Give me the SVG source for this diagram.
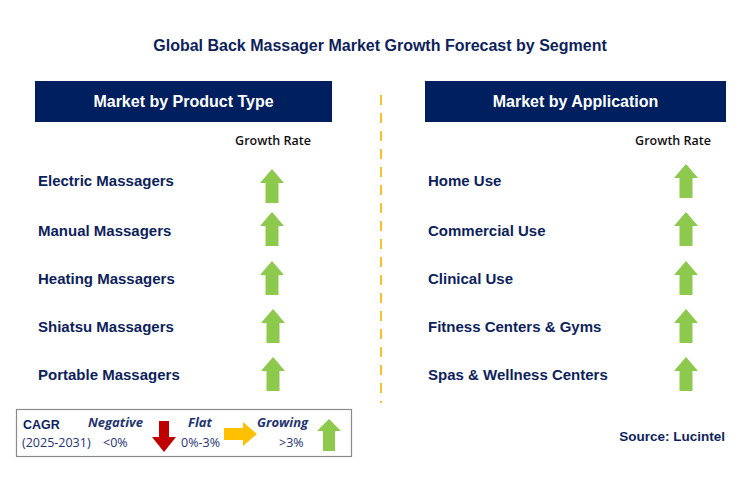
<svg xmlns="http://www.w3.org/2000/svg" width="740" height="485" viewBox="0 0 740 485">
<style>
.t{font-family:"Liberation Sans",Arial,sans-serif;font-weight:bold;fill:#0e1f5b}
.lbl{font-size:15px}
.hd{font-family:"Liberation Sans",Arial,sans-serif;font-weight:bold;font-size:16px;fill:#ffffff}
.gr{font-family:"Open Sans","Liberation Sans",sans-serif;font-weight:600;font-size:12.5px;fill:#111111}
.lg{font-family:"Open Sans","Liberation Sans",sans-serif;font-size:12.5px;fill:#1f3470}
.lgi{font-family:"Open Sans","Liberation Sans",sans-serif;font-size:13px;font-style:italic;font-weight:bold;fill:#1f3470}
.up{fill:#8cc94c}
</style>
<defs>
<path id="upA" d="M0,-17 L12,-3 L6.5,-3 L6.5,17 L-6.5,17 L-6.5,-3 L-12,-3 Z"/>
</defs>
<rect width="740" height="485" fill="#ffffff"/>
<text class="t" x="380" y="51" font-size="16" text-anchor="middle">Global Back Massager Market Growth Forecast by Segment</text>
<g id="connectors">
<line x1="381" y1="95" x2="381" y2="403" stroke="#fbc02d" stroke-width="2" stroke-dasharray="10,8"/>
</g>
<g id="product-header">
<rect x="35" y="81" width="297" height="41" fill="#001f5e"/>
<text class="hd" x="183.5" y="107" text-anchor="middle">Market by Product Type</text>
<text class="gr" x="273" y="145" text-anchor="middle">Growth Rate</text>
</g>
<g id="application-header">
<rect x="425" y="81" width="301" height="41" fill="#001f5e"/>
<text class="hd" x="575.5" y="107" text-anchor="middle">Market by Application</text>
<text class="gr" x="673" y="145" text-anchor="middle">Growth Rate</text>
</g>
<g id="p1"><text class="t lbl" x="38" y="186">Electric Massagers</text><use href="#upA" class="up" x="272" y="186"/></g>
<g id="p2"><text class="t lbl" x="38" y="236">Manual Massagers</text><use href="#upA" class="up" x="272" y="229"/></g>
<g id="p3"><text class="t lbl" x="38" y="284">Heating Massagers</text><use href="#upA" class="up" x="272" y="278"/></g>
<g id="p4"><text class="t lbl" x="38" y="332">Shiatsu Massagers</text><use href="#upA" class="up" x="273" y="326"/></g>
<g id="p5"><text class="t lbl" x="38" y="380">Portable Massagers</text><use href="#upA" class="up" x="273" y="374"/></g>
<g id="a1"><text class="t lbl" x="428" y="186">Home Use</text><use href="#upA" class="up" x="686" y="181"/></g>
<g id="a2"><text class="t lbl" x="428" y="236">Commercial Use</text><use href="#upA" class="up" x="686" y="229"/></g>
<g id="a3"><text class="t lbl" x="428" y="284">Clinical Use</text><use href="#upA" class="up" x="686" y="278"/></g>
<g id="a4"><text class="t lbl" x="428" y="332">Fitness Centers &amp; Gyms</text><use href="#upA" class="up" x="686" y="326"/></g>
<g id="a5"><text class="t lbl" x="428" y="380">Spas &amp; Wellness Centers</text><use href="#upA" class="up" x="686" y="374"/></g>
<g id="legend">
<rect x="16.5" y="409.5" width="335" height="47" fill="#ffffff" stroke="#8a8a8a" stroke-width="1.2"/>
<text class="t" x="23" y="429" font-size="12.5" fill="#1f3470">CAGR</text>
<text class="lg" x="22" y="447">(2025-2031)</text>
<text class="lgi" x="88" y="427">Negative</text>
<text class="lg" x="103" y="447">&lt;0%</text>
<path d="M159,421 L169,421 L169,437 L176,437 L164,452 L152,437 L159,437 Z" fill="#c00000"/>
<text class="lgi" x="188" y="427">Flat</text>
<text class="lg" x="181" y="447">0%-3%</text>
<path d="M224,428 L243,428 L243,422 L257,434 L243,446 L243,440 L224,440 Z" fill="#ffc000"/>
<text class="lgi" x="257" y="427">Growing</text>
<text class="lg" x="279" y="447">&gt;3%</text>
<path d="M329,419 L341,431 L335,431 L335,451 L323,451 L323,431 L317,431 Z" fill="#8cc94c"/>
</g>
<text class="t" x="725" y="441" font-size="13.5" text-anchor="end">Source: Lucintel</text>
</svg>
